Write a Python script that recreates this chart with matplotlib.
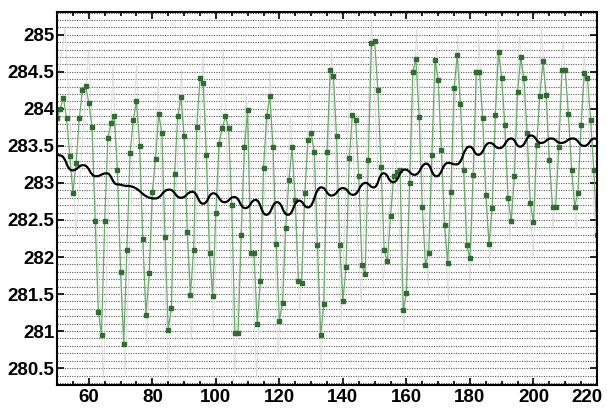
import numpy as np
import matplotlib
matplotlib.use("Agg")
import matplotlib.pyplot as plt
import matplotlib.transforms as mtransforms
from matplotlib.path import Path
from matplotlib.patches import PathPatch
from matplotlib.ticker import MultipleLocator

# ---------------- data ----------------
days = list(range(50, 221))
green_vals = [
    283.87, 284.00, 284.15, 283.87, 283.36, 282.86, 283.27, 283.87, 284.26, 284.31,
    284.08, 283.76, 282.48, 281.26, 280.95, 282.48, 283.61, 283.81, 283.90, 283.18,
    281.80, 280.83, 282.10, 283.40, 283.85, 284.10, 283.50, 282.24, 281.22, 281.78,
    282.88, 283.32, 283.93, 283.68, 282.27, 281.02, 281.31, 283.12, 283.90, 284.16,
    283.63, 282.34, 281.49, 282.10, 283.76, 284.41, 284.35, 283.38, 282.05, 281.47,
    282.60, 283.53, 283.74, 283.90, 283.74, 282.70, 280.98, 280.98, 282.30, 283.48,
    283.98, 282.06, 282.06, 281.10, 281.67, 283.20, 283.90, 284.17, 283.49, 282.17,
    281.14, 281.38, 282.39, 283.04, 283.48, 282.77, 281.67, 281.65, 282.86, 283.58,
    283.67, 283.42, 282.16, 280.95, 281.37, 283.42, 284.53, 284.45, 283.63, 282.16,
    281.41, 281.87, 283.33, 283.92, 283.85, 283.09, 281.89, 281.77, 283.31, 284.89,
    284.91, 284.26, 283.22, 282.09, 281.94, 282.55, 283.09, 283.15, 283.18, 281.28,
    281.51, 283.00, 284.50, 284.67, 283.89, 282.67, 281.89, 282.05, 283.38, 284.66,
    284.39, 283.45, 282.43, 281.92, 282.88, 284.28, 284.73, 284.06, 283.18, 282.16,
    281.98, 283.11, 284.50, 284.50, 283.87, 282.84, 282.18, 282.66, 283.92, 284.77,
    284.41, 283.78, 282.79, 282.48, 283.09, 284.23, 284.70, 284.41, 283.67, 282.73,
    282.47, 283.51, 284.18, 284.64, 284.19, 283.31, 282.68, 282.68, 283.49, 284.53,
    284.52, 283.93, 283.18, 282.68, 282.87, 283.78, 284.48, 284.41, 283.85, 283.18,
    282.30,
]

gray_x = [50.0, 52.5, 56.0, 59.9, 64.6, 67.6, 71.4, 75.0, 78.2, 81.9, 85.0, 89.2,
          92.3, 96.0, 99.2, 102.3, 106.0, 109.6, 112.8, 117.0, 119.6, 123.5, 126.4,
          129.6, 133.2, 136.4, 139.5, 142.1, 145.8, 149.0, 152.6, 156.5, 159.2,
          163.2, 166.9, 169.5, 173.2, 176.1, 180.0, 182.8, 186.3, 188.9, 192.6,
          195.6, 199.9, 202.5, 206.2, 209.3, 213.5, 216.0, 220.0]
gray_vals = [284.30, 285.09, 282.30, 284.80, 280.36, 284.60, 280.41, 284.62, 280.83,
             284.41, 280.41, 284.53, 280.88, 284.75, 281.01, 284.82, 280.43, 284.21,
             280.38, 284.53, 280.65, 283.90, 281.28, 284.30, 280.45, 284.80, 281.15,
             284.30, 281.37, 285.20, 281.60, 283.60, 280.99, 285.07, 281.60, 284.84,
             281.40, 284.98, 281.62, 284.96, 281.82, 285.20, 282.23, 285.02, 281.98,
             285.11, 282.36, 284.93, 282.36, 284.75, 282.00]

# black trend curve: read at its wiggle extremes
black_x = [50.0, 51.0, 54.8, 58.3, 62.2, 65.6, 69.0, 72.0, 80.8, 85.3, 89.0, 92.6,
           96.0, 99.2, 102.7, 105.8, 109.3, 112.5, 115.9, 119.3, 122.7, 126.2,
           129.0, 133.2, 136.4, 140.0, 143.2, 147.1, 149.7, 152.8, 155.8, 159.5,
           162.6, 166.3, 169.4, 173.1, 175.7, 179.9, 182.6, 186.2, 189.3, 193.0,
           195.8, 199.3, 202.4, 205.6, 208.7, 212.4, 216.0, 219.3, 220.0]
black_vals = [283.39, 283.37, 283.17, 283.24, 283.09, 283.13, 282.98, 282.96, 282.79,
              282.91, 282.80, 282.88, 282.72, 282.86, 282.74, 282.81, 282.66, 282.77,
              282.57, 282.74, 282.57, 282.76, 282.67, 282.94, 282.83, 282.93, 282.84,
              283.00, 282.94, 283.13, 283.01, 283.18, 283.11, 283.26, 283.09, 283.27,
              283.25, 283.49, 283.38, 283.54, 283.47, 283.60, 283.49, 283.64, 283.54,
              283.60, 283.54, 283.60, 283.50, 283.60, 283.59]

x_ticks = [60, 80, 100, 120, 140, 160, 180, 200, 220]
y_ticks = [280.5, 281, 281.5, 282, 282.5, 283, 283.5, 284, 284.5, 285]
y_labels = ["280.5", "281", "281.5", "282", "282.5", "283", "283.5", "284", "284.5", "285"]

# ---------------- figure ----------------
plt.rcParams['font.family'] = ['Liberation Sans', 'DejaVu Sans']
fig = plt.figure(figsize=(6.07, 4.08), dpi=100)
ax = fig.add_axes([0.094, 0.056, 0.8895, 0.915])

ax.set_xlim(50, 220)
ax.set_ylim(280.27, 285.31)

# dense horizontal grid
for gy in np.arange(280.3, 285.31, 0.1):
    ax.axhline(gy, color='#5a5a5a', lw=0.8, ls=(0, (1.0, 1.2)), zorder=0)

ax.plot(gray_x, gray_vals, color='#d8d8d8', lw=0.6, zorder=1)
ax.plot(days, green_vals, color='#6aaa6a', lw=0.9, marker='s', markersize=2.4,
        markerfacecolor='#2f6e2f', markeredgecolor='#2f6e2f', zorder=2)

# smooth black curve through its extremes (horizontal tangents at extremes)
verts = [(black_x[0], black_vals[0])]
codes = [Path.MOVETO]
for i in range(1, len(black_x)):
    x0, y0 = black_x[i - 1], black_vals[i - 1]
    x1, y1 = black_x[i], black_vals[i]
    dx = (x1 - x0) / 2.0
    verts += [(x0 + dx, y0), (x1 - dx, y1), (x1, y1)]
    codes += [Path.CURVE4, Path.CURVE4, Path.CURVE4]
ax.add_patch(PathPatch(Path(verts, codes), facecolor='none', edgecolor='black',
                       lw=1.6, zorder=3))

ax.set_xticks(x_ticks)
ax.set_xticklabels([str(t) for t in x_ticks])
ax.set_yticks(y_ticks)
ax.set_yticklabels(y_labels)
ax.xaxis.set_minor_locator(MultipleLocator(5))
ax.tick_params(axis='both', which='both', direction='in', top=True, right=True,
               labelsize=13.5, width=1.2)
ax.tick_params(axis='x', pad=3)
ax.tick_params(axis='y', pad=2)
ax.tick_params(which='major', length=5)
ax.tick_params(which='minor', length=3)
ax.tick_params(axis='y', which='minor', left=False, right=False)
for lab in ax.get_xticklabels() + ax.get_yticklabels():
    lab.set_fontweight('bold')
for s in ax.spines.values():
    s.set_linewidth(1.5)

# nudge the last x label inward so it stays inside the canvas
last = ax.get_xticklabels()[-1]
last.set_transform(last.get_transform() +
                   mtransforms.ScaledTranslation(-10 / 100, 0, fig.dpi_scale_trans))

fig.savefig('out.png', dpi=100)
